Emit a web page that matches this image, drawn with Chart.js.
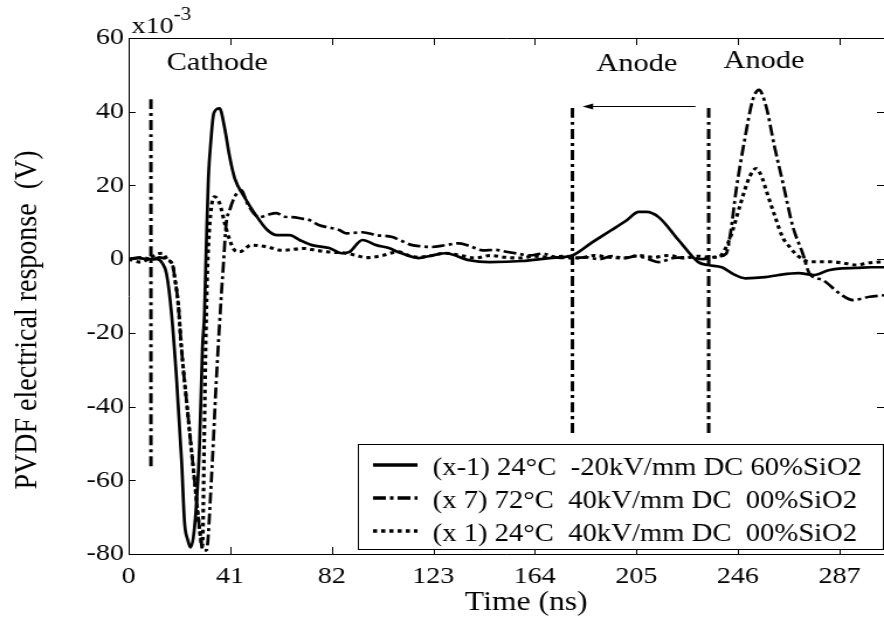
<!DOCTYPE html>
<html>
<head>
  <title>PVDF electrical response</title>
  <meta name="viewport" content="width=device-width, initial-scale=1">
  <script src="https://cdn.jsdelivr.net/npm/chart.js"></script>
  <style>
    body {
      margin: 0;
      padding: 0;
      background: #fff;
    }

    #myChart {
      display: block;
    }
  </style>
</head>
<body>

  <!-- drawn narrower and stretched sideways, like the exported figure -->
  <canvas id="myChart" width="756" height="626" style="width:884px;height:626px"></canvas>

  <script>
    const xTicks = [0, 41, 82, 123, 164, 205, 246, 287];
    const yTicks = [-80, -60, -40, -20, 0, 20, 40, 60];

    const legendLabels = [
      '(x-1) 24°C  -20kV/mm DC 60%SiO2',
      '(x 7) 72°C  40kV/mm DC  00%SiO2',
      '(x 1) 24°C  40kV/mm DC  00%SiO2'
    ];

    // (x-1) 24°C -20kV/mm, solid
    const solidTime = [0, 4, 8, 11.5, 13.5, 15.3, 17.3, 19.4, 21.4, 22.6, 23.8, 25, 26.6, 28.6, 29.8, 30.6, 31.4, 32.2, 33.2, 34.4,
      36.7, 38.7, 40.8, 42.8, 46.8, 50.8, 56, 60, 65, 69, 74, 81, 86, 89, 94.4, 100, 105, 109, 117, 122.5,
      128, 137.5, 145.6, 159, 170, 179, 187, 195, 201, 206, 209, 214, 222, 230, 234, 239.5, 244, 249, 257, 262.5,
      270.5, 277, 282.6, 288, 293.5, 300, 305];
    const solidResp = [0, 0.3, 0, 0, -1, -4, -14.7, -33, -55, -71.7, -76, -78.2, -72.8, -51, -24, -15, 5, 22, 32, 39.6,
      40.9, 35.8, 27.7, 22, 16.8, 12.5, 7.9, 6.5, 6.5, 5.2, 3.8, 3, 1.6, 1.9, 5.2, 3.8, 3, 1.9, 0.3, 1,
      1.6, -0.3, -0.8, -0.5, 0.3, 1, 4.5, 7.9, 10.5, 12.8, 12.8, 11.4, 5.2, -0.8, -1.6, -2.2, -4, -5.2, -4.9, -4.3,
      -3.8, -4.3, -3, -2.5, -2.4, -2.2, -2.2];

    // (x 7) 72°C 40kV/mm, dash-dot
    const dashTime = [0, 5, 10, 12.5, 15, 17.9, 18.6, 20, 21.3, 23.9, 26.6, 28.7, 30, 31.4, 33.4, 35.4, 37.4, 38.4, 39.4, 40.8,
      42.8, 45.5, 48, 52.8, 56, 59.6, 63, 66, 70, 73, 77, 80, 85, 88, 94.4, 100, 106.5, 110, 114.5, 118,
      122.5, 128, 133.5, 138, 143, 148, 152.4, 157, 162, 167, 172.6, 179, 185, 190, 195, 200, 205, 210, 214, 220,
      226, 232, 236, 238.5, 241.3, 243, 245.3, 248.7, 252, 254.5, 257.4, 260.8, 264.2, 268.2, 272.2, 274.9, 280.3, 287, 292.4, 299.2,
      305];
    const dashResp = [0, 0.5, 0, 0.5, 0, -2, -5, -12, -24, -42, -60, -73.6, -79, -79, -60, -32.9, -10, 0, 9.7, 13.3,
      16.9, 18.7, 15, 11.4, 12, 12.5, 11.5, 11.4, 11, 10.6, 9.2, 8.7, 7.9, 7, 7.3, 6.5, 6, 5, 3.8, 3.5,
      3.3, 3.8, 4.3, 3.5, 2.4, 2.5, 2, 1.5, 1, 1.5, 0.5, 0.3, 0.5, 0, 0.8, 0.3, 0.8, 0, -0.8, 0.3,
      0.5, 0, 0.5, 0.8, 1.5, 7, 18.7, 32.3, 43.2, 45.9, 41.4, 30.5, 20.6, 8.8, 1.5, -3.9, -5.7, -9.3, -11.1, -10.2,
      -9.8];

    // (x 1) 24°C 40kV/mm, dotted
    const dotTime = [0, 5, 9, 12, 13.7, 15.5, 17.9, 18.6, 20, 21.3, 23.9, 26.6, 28.7, 29.8, 30.5, 31.2, 31.8, 32.6, 33.6, 34.7,
      36.7, 38.8, 40.8, 42.8, 44.8, 49.5, 56.2, 62, 71, 75.6, 80, 87.8, 92, 96, 102.5, 109, 113, 117, 122.5, 128,
      134, 140, 146, 152, 158, 164, 170, 176, 182, 188, 194, 200, 206, 212, 218, 224, 230, 235, 238, 241.3,
      243.5, 246.7, 250.7, 253.4, 255.8, 257.4, 261.5, 264, 266.9, 270, 274.9, 283, 288, 293.8, 299, 305];
    const dotResp = [0, -0.8, 0.5, 1.5, 1.6, 0, -2, -5, -12, -24, -42, -60, -73.6, -78, -50, -20, -3, 8, 15, 16.9,
      15.2, 9.7, 5.2, 2.4, 2, 3.8, 3.3, 2.4, 2.9, 2.4, 2, 1.6, 1, 0.4, 1, 2, 1, 0.5, 1, 1.6,
      1, 0.3, 1, 0.5, 0.3, 0.8, 0.5, 0.8, 0.3, 1, 0.5, 0.3, 1, 0.5, 1, 0.3, 0.8, 0.5, 0.5, 3.3,
      7, 14.2, 22.3, 24.6, 22, 18.7, 10.6, 6, 3.3, 1, -0.7, -0.7, -1, -1.6, -1, -0.7];

    // vertical dash-dot markers (cathode, shifted anode, anode)
    const markerTime = [9, 179.2, 234.2];
    const markerTop = [43.4, 41, 41];
    const markerBottom = [-56.5, -48.3, -48.3];

    const FONT = "'Liberation Serif', 'Times New Roman', serif";
    const DASH_DOT = [11, 3.5, 3, 3.5];
    const DOTS = [3.5, 3.5];

    function pairs(xs, ys) {
      return xs.map((t, i) => ({ x: t, y: ys[i] }));
    }

    const datasets = [
      { label: legendLabels[0], data: pairs(solidTime, solidResp), borderWidth: 2.7, borderDash: [] },
      { label: legendLabels[1], data: pairs(dashTime, dashResp), borderWidth: 2.7, borderDash: DASH_DOT },
      { label: legendLabels[2], data: pairs(dotTime, dotResp), borderWidth: 3.1, borderDash: DOTS }
    ];
    markerTime.forEach((t, i) => {
      datasets.push({
        label: 'marker',
        data: [{ x: t, y: markerTop[i] }, { x: t, y: markerBottom[i] }],
        borderWidth: 3,
        borderDash: [10, 4, 3, 4]
      });
    });
    datasets.forEach(d => {
      d.borderColor = '#000';
      d.pointRadius = 0;
      d.fill = false;
      d.cubicInterpolationMode = 'monotone';
    });

    const decor = {
      id: 'decor',
      afterDatasetsDraw(chart) {
        const { ctx, chartArea: a, scales: { x, y } } = chart;
        ctx.save();
        ctx.strokeStyle = '#000';
        ctx.fillStyle = '#000';

        // frame (right side falls off the figure) and inward ticks
        ctx.lineWidth = 1;
        ctx.setLineDash([]);
        ctx.beginPath();
        ctx.moveTo(a.right, a.top + 0.5);
        ctx.lineTo(a.left + 0.5, a.top + 0.5);
        ctx.lineTo(a.left + 0.5, a.bottom + 0.5);
        ctx.lineTo(a.right, a.bottom + 0.5);
        xTicks.forEach(v => {
          const px = Math.round(x.getPixelForValue(v)) + 0.5;
          ctx.moveTo(px, a.bottom); ctx.lineTo(px, a.bottom - 7);
          ctx.moveTo(px, a.top); ctx.lineTo(px, a.top + 7);
        });
        yTicks.forEach(v => {
          const py = Math.round(y.getPixelForValue(v)) + 0.5;
          ctx.moveTo(a.left, py); ctx.lineTo(a.left + 6, py);
          ctx.moveTo(a.right, py); ctx.lineTo(a.right - 6, py);
        });
        ctx.stroke();

        // exponent above the y axis
        ctx.textAlign = 'left';
        ctx.textBaseline = 'alphabetic';
        ctx.font = '24px ' + FONT;
        ctx.fillText('x10', a.left + 2.5, 33);
        const w = ctx.measureText('x10').width;
        ctx.font = '18px ' + FONT;
        ctx.fillText('-3', a.left + 2.5 + w, 20);

        // electrode labels
        ctx.font = '26px ' + FONT;
        ctx.fillText('Cathode', x.getPixelForValue(15.3), y.getPixelForValue(51.3));
        ctx.fillText('Anode', x.getPixelForValue(188.8), y.getPixelForValue(51.1));
        ctx.fillText('Anode', x.getPixelForValue(240.2), y.getPixelForValue(51.8));

        // arrow from anode to shifted anode
        const ay = Math.round(y.getPixelForValue(41.5)) + 0.5;
        const ax0 = x.getPixelForValue(228.9);
        const ax1 = x.getPixelForValue(183.3);
        ctx.beginPath();
        ctx.moveTo(ax0, ay); ctx.lineTo(ax1 + 6, ay);
        ctx.stroke();
        ctx.beginPath();
        ctx.moveTo(ax1, ay);
        ctx.lineTo(ax1 + 9, ay - 3);
        ctx.lineTo(ax1 + 9, ay + 3);
        ctx.closePath();
        ctx.fill();

        // legend box inside the plot
        const lx = 306, ly = 444, lr = a.right - 1, lb = 549;
        ctx.fillStyle = '#fff';
        ctx.fillRect(lx, ly, lr - lx, lb - ly);
        ctx.strokeRect(lx + 0.5, ly + 0.5, lr - lx, lb - ly);
        ctx.fillStyle = '#000';
        ctx.font = '24.5px ' + FONT;
        const rows = [465, 498, 531];
        datasets.slice(0, 3).forEach((d, i) => {
          ctx.lineWidth = 3.5;
          ctx.setLineDash(d.borderDash);
          ctx.beginPath();
          ctx.moveTo(319, rows[i]);
          ctx.lineTo(357, rows[i]);
          ctx.stroke();
          ctx.fillText(d.label, 370, rows[i] + 10);
        });

        // axis titles
        ctx.setLineDash([]);
        ctx.font = '27px ' + FONT;
        ctx.textAlign = 'center';
        ctx.fillText('Time (ns)', 450, 610);
        ctx.translate(31.4, 320);
        ctx.rotate(-Math.PI / 2);
        ctx.font = '28px ' + FONT;
        ctx.fillText('PVDF electrical response  (V)', 0, 0);
        ctx.restore();
      }
    };

    const ctx = document.getElementById('myChart').getContext('2d');
    const chart = new Chart(ctx, {
      type: 'line',
      data: { datasets: datasets },
      options: {
        responsive: false,
        animation: false,
        layout: { padding: { top: 38, right: 0, bottom: 0, left: 0 } },
        plugins: {
          legend: { display: false },
          tooltip: { enabled: false }
        },
        scales: {
          x: {
            type: 'linear',
            min: 0,
            max: 305,
            grid: { display: false, drawTicks: false },
            border: { display: false },
            afterBuildTicks: s => { s.ticks = xTicks.map(v => ({ value: v })); },
            afterFit: s => { s.height = 72; s.paddingLeft = 0; s.paddingRight = 0; },
            ticks: {
              color: '#000',
              padding: 8,
              maxRotation: 0,
              autoSkip: false,
              font: { family: FONT, size: 24 },
              callback: v => String(v)
            }
          },
          y: {
            min: -80,
            max: 60,
            grid: { display: false, drawTicks: false },
            border: { display: false },
            afterBuildTicks: s => { s.ticks = yTicks.map(v => ({ value: v })); },
            afterFit: s => { s.width = 110; },
            ticks: {
              color: '#000',
              padding: 4,
              autoSkip: false,
              font: { family: FONT, size: 24 },
              callback: v => String(v)
            }
          }
        }
      },
      plugins: [decor]
    });
  </script>

</body>
</html>
